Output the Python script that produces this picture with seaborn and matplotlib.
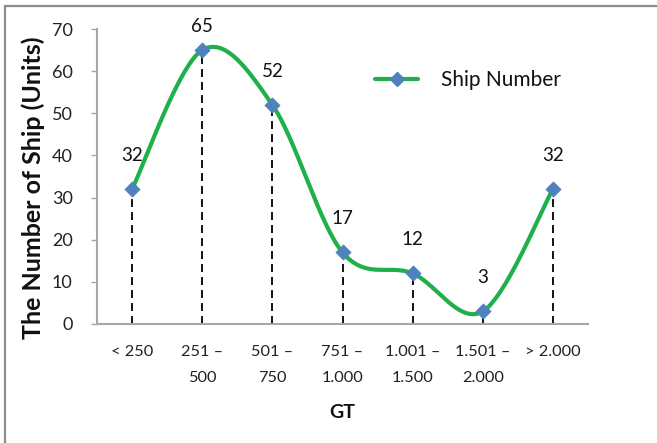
import numpy as np
import pandas as pd
import matplotlib
matplotlib.use("Agg")
import matplotlib.pyplot as plt
from matplotlib.lines import Line2D
import seaborn as sns

# Ship counts per gross-tonnage class
categories = ["< 250", "251 –\n500", "501 –\n750", "751 –\n1.000",
              "1.001 –\n1.500", "1.501 –\n2.000", "> 2.000"]
ship_number = [32, 65, 52, 17, 12, 3, 32]
y_ticks = [0, 10, 20, 30, 40, 50, 60, 70]

GREEN = "#1fb04c"
BLUE = "#4f81bd"
AXIS_GRAY = "#a6a6a6"

sns.set_theme(style="white")
plt.rcParams["font.family"] = ["Lato", "DejaVu Sans"]

fig = plt.figure(figsize=(6.57, 4.43), dpi=100)
ax = fig.add_axes([97 / 657, 1 - 324 / 443, 491 / 657, 295 / 443])

x = np.arange(len(ship_number), dtype=float)
y = np.asarray(ship_number, dtype=float)


def smooth_curve(xs, ys, steps=40):
    """Catmull-Rom style cubic Bezier through every point (spreadsheet 'smoothed line')."""
    px = np.concatenate([[xs[0]], xs, [xs[-1]]])
    py = np.concatenate([[ys[0]], ys, [ys[-1]]])
    out_x, out_y = [], []
    t = np.linspace(0, 1, steps)
    for i in range(1, len(px) - 2):
        p0 = np.array([px[i], py[i]])
        p3 = np.array([px[i + 1], py[i + 1]])
        c1 = p0 + (np.array([px[i + 1], py[i + 1]]) - np.array([px[i - 1], py[i - 1]])) / 6
        c2 = p3 - (np.array([px[i + 2], py[i + 2]]) - np.array([px[i], py[i]])) / 6
        b = ((1 - t) ** 3)[:, None] * p0 + (3 * (1 - t) ** 2 * t)[:, None] * c1 \
            + (3 * (1 - t) * t ** 2)[:, None] * c2 + (t ** 3)[:, None] * p3
        seg = b if i == 1 else b[1:]
        out_x.extend(seg[:, 0])
        out_y.extend(seg[:, 1])
    return np.array(out_x), np.array(out_y)


# Dashed drop lines from each point to the category axis
ax.vlines(x, 0, y, colors="black", linewidth=1.3,
          linestyles=[(0, (4.4, 2.8))], zorder=1)

sx, sy = smooth_curve(x, y)
curve = pd.DataFrame({"pos": sx, "value": sy})
sns.lineplot(data=curve, x="pos", y="value", sort=False, color=GREEN,
             linewidth=3.0, ax=ax, zorder=2, legend=False)

points = pd.DataFrame({"pos": x, "value": y})
sns.scatterplot(data=points, x="pos", y="value", marker="D", s=60,
                color=BLUE, edgecolor=BLUE, linewidth=0.5, ax=ax, zorder=3,
                legend=False)

# Value labels above each point, kept inside the top of the frame
for xi, yi in zip(x, y):
    ax.text(xi, min(yi + 8.0, 70.7), f"{int(yi)}", ha="center", va="center",
            fontsize=13.5, color="#111111", clip_on=False, zorder=4)

ax.set_xlim(-0.5, len(categories) - 0.5)
ax.set_ylim(0, 70)
ax.set_yticks(y_ticks)
ax.set_xticks(x)
ax.set_xticklabels(categories)
ax.tick_params(axis="x", length=0, pad=15, labelsize=11.8, labelcolor="#222222")
ax.tick_params(axis="y", length=4.5, width=1, color=AXIS_GRAY, pad=13,
               labelsize=13, labelcolor="#222222", left=True)

for side in ["top", "right"]:
    ax.spines[side].set_visible(False)
for side in ["left", "bottom"]:
    ax.spines[side].set_color(AXIS_GRAY)
    ax.spines[side].set_linewidth(1.5)

ax.set_xlabel("GT", fontsize=14, fontweight="bold", labelpad=13, color="#111111")
ax.set_ylabel("The Number of Ship (Units)", fontsize=18, fontweight="bold",
              color="#111111")
ax.yaxis.set_label_coords(-0.106, 0.463)

handle = Line2D([], [], color=GREEN, linewidth=3.0, marker="D", markersize=7,
                markerfacecolor=BLUE, markeredgecolor=BLUE)
ax.legend([handle], ["Ship Number"], loc="center left",
          bbox_to_anchor=((375 - 97) / 491, (324 - 80) / 295),
          frameon=False, fontsize=15, handlelength=2.07, handletextpad=1.1,
          borderpad=0, borderaxespad=0, labelcolor="#111111")

# Outer frame along the top and left edges
fig.add_artist(Line2D([5 / 657, 1], [1 - 6 / 443, 1 - 6 / 443],
                      transform=fig.transFigure, color="#8c8c8c", linewidth=1.6))
fig.add_artist(Line2D([5 / 657, 5 / 657], [0, 1 - 6 / 443],
                      transform=fig.transFigure, color="#8c8c8c", linewidth=1.6))

for lbl in ax.get_xticklabels():
    lbl.set_linespacing(2.15)

fig.savefig("out.png", dpi=100)
